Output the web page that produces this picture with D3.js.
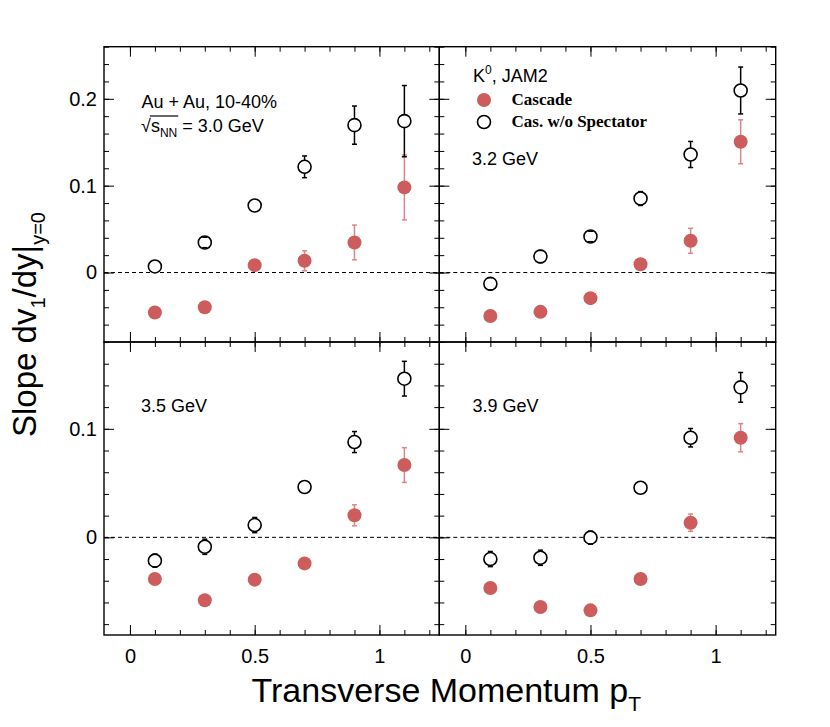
<!DOCTYPE html>
<html lang="en">
<head>
<meta charset="utf-8">
<script src="https://cdn.jsdelivr.net/npm/d3@7"></script>
<style>
    body { margin: 0; background: #fff; }
    text { font-family: "Liberation Sans", Arial, sans-serif; fill: #000; }
    .legend-text { font-family: "Liberation Serif", "Times New Roman", serif; font-weight: bold; font-size: 17px; }
    .tick line { stroke: #000; stroke-width: 1; }
    .frame { fill: none; stroke: #000; stroke-width: 1.4; }
    .zero { stroke: #000; stroke-width: 1; stroke-dasharray: 4,3; }
</style>
</head>
<body>
<svg id="chart" width="830" height="727"></svg>
<script>
// pT bin centres (GeV/c)
var pT = [0.1, 0.3, 0.5, 0.7, 0.9, 1.1];

// panel order: 3.0, 3.2, 3.5, 3.9 GeV
var energies = ["3.0 GeV", "3.2 GeV", "3.5 GeV", "3.9 GeV"];

// "Cascade" (filled red)
var cascade30 = [-0.046, -0.040, 0.0085, 0.0135, 0.0346, 0.098];
var cascade32 = [-0.050, -0.0453, -0.0295, 0.0096, 0.0365, 0.1505];
var cascade35 = [-0.0384, -0.058, -0.039, -0.024, 0.0203, 0.0666];
var cascade39 = [-0.0467, -0.0642, -0.0673, -0.0384, 0.0135, 0.0918];
var cascadeErr30 = [0.003, 0.003, 0.004, 0.0115, 0.020, 0.0374];
var cascadeErr32 = [0.003, 0.003, 0.003, 0.006, 0.0144, 0.0253];
var cascadeErr35 = [0.003, 0.003, 0.003, 0.004, 0.0097, 0.016];
var cascadeErr39 = [0.003, 0.003, 0.003, 0.004, 0.008, 0.013];

// "Cas. w/o Spectator" (open black); 0 = error hidden by the marker
var noSpec30 = [0.007, 0.0346, 0.0772, 0.1217, 0.1697, 0.1743];
var noSpec32 = [-0.013, 0.0184, 0.0415, 0.0852, 0.1359, 0.2096];
var noSpec35 = [-0.0215, -0.0087, 0.0113, 0.0464, 0.0878, 0.1462];
var noSpec39 = [-0.020, -0.0188, -0.0003, 0.0457, 0.0918, 0.1382];
var noSpecErr30 = [0, 0.006, 0, 0.0125, 0.022, 0.041];
var noSpecErr32 = [0.007, 0.007, 0.006, 0.008, 0.015, 0.027];
var noSpecErr35 = [0.006, 0.007, 0.007, 0, 0.0097, 0.016];
var noSpecErr39 = [0.007, 0.007, 0.006, 0, 0.0085, 0.0137];

// tick labels
var xTicks = [0, 0.5, 1];
var yTicksTop = [0, 0.1, 0.2];
var yTicksBottom = [0, 0.1];

var cascade = [cascade30, cascade32, cascade35, cascade39];
var cascadeErr = [cascadeErr30, cascadeErr32, cascadeErr35, cascadeErr39];
var noSpec = [noSpec30, noSpec32, noSpec35, noSpec39];
var noSpecErr = [noSpecErr30, noSpecErr32, noSpecErr35, noSpecErr39];

var red = "#cd5c5c";
var svg = d3.select("#chart");

var colX = [[104, 439.3], [439.3, 775.7]];
var rowY = [[46.7, 342], [342, 635]];
var yDomains = [[-0.08, 0.26], [-0.09, 0.18]];
var xDomain = [-0.104, 1.24];

var xMinor = d3.range(0, 13).map(function (v) { return v / 10; });
var yMinor = [
    d3.range(-8, 27, 2).map(function (v) { return v / 100; }),
    d3.range(-8, 19, 2).map(function (v) { return v / 100; })
];

function fmt(d) { return String(+d.toFixed(2)); }

function styleAxis(g) {
    g.select(".domain").remove();
    g.attr("font-family", null).attr("font-size", null);
    g.selectAll("text").style("font-size", "20px");
}

energies.forEach(function (en, i) {
    var col = i % 2, row = Math.floor(i / 2);
    var x = d3.scaleLinear().domain(xDomain).range(colX[col]);
    var y = d3.scaleLinear().domain(yDomains[row]).range([rowY[row][1], rowY[row][0]]);
    var yMajor = row === 0 ? yTicksTop : yTicksBottom;
    var g = svg.append("g");

    // y=0 dashed line
    g.append("line").attr("class", "zero")
        .attr("x1", colX[col][0]).attr("x2", colX[col][1])
        .attr("y1", y(0)).attr("y2", y(0));

    // ticks on all four sides, pointing inward
    g.append("g").attr("transform", "translate(" + colX[col][0] + ",0)")
        .call(d3.axisLeft(y).tickValues(yMajor).tickSize(-10).tickPadding(7)
            .tickFormat(col === 0 ? fmt : function () { return ""; }))
        .call(styleAxis);
    g.append("g").attr("transform", "translate(" + colX[col][0] + ",0)")
        .call(d3.axisLeft(y).tickValues(yMinor[row]).tickSize(-5).tickFormat(""))
        .call(styleAxis);
    g.append("g").attr("transform", "translate(" + colX[col][1] + ",0)")
        .call(d3.axisRight(y).tickValues(yMajor).tickSize(-10).tickFormat(""))
        .call(styleAxis);
    g.append("g").attr("transform", "translate(" + colX[col][1] + ",0)")
        .call(d3.axisRight(y).tickValues(yMinor[row]).tickSize(-5).tickFormat(""))
        .call(styleAxis);

    g.append("g").attr("transform", "translate(0," + rowY[row][1] + ")")
        .call(d3.axisBottom(x).tickValues(xTicks).tickSize(-10).tickPadding(14)
            .tickFormat(row === 1 ? fmt : function () { return ""; }))
        .call(styleAxis);
    g.append("g").attr("transform", "translate(0," + rowY[row][1] + ")")
        .call(d3.axisBottom(x).tickValues(xMinor).tickSize(-5).tickFormat(""))
        .call(styleAxis);
    g.append("g").attr("transform", "translate(0," + rowY[row][0] + ")")
        .call(d3.axisTop(x).tickValues(xTicks).tickSize(-10).tickFormat(""))
        .call(styleAxis);
    g.append("g").attr("transform", "translate(0," + rowY[row][0] + ")")
        .call(d3.axisTop(x).tickValues(xMinor).tickSize(-5).tickFormat(""))
        .call(styleAxis);

    g.append("rect").attr("class", "frame")
        .attr("x", colX[col][0]).attr("y", rowY[row][0])
        .attr("width", colX[col][1] - colX[col][0])
        .attr("height", rowY[row][1] - rowY[row][0]);

    // series: bar under the marker, end caps under or over it
    function drawSeries(vals, errs, stroke, fill, r, sw, capsOnTop) {
        var pts = pT.map(function (p, k) { return {x: p, v: vals[k], e: errs[k]}; })
        var withErr = pts.filter(function (d) { return d.e > 0; });
        g.append("g").attr("stroke", stroke).attr("stroke-width", 1.5)
            .selectAll("line").data(withErr).enter().append("line")
            .attr("x1", function (d) { return x(d.x); })
            .attr("x2", function (d) { return x(d.x); })
            .attr("y1", function (d) { return y(d.v - d.e); })
            .attr("y2", function (d) { return y(d.v + d.e); });
        function caps() {
            var c = g.append("g").attr("stroke", stroke).attr("stroke-width", 1.5);
            [-1, 1].forEach(function (s) {
                c.selectAll("line.cap" + (s + 1)).data(withErr).enter().append("line")
                    .attr("class", "cap" + (s + 1))
                    .attr("x1", function (d) { return x(d.x) - 2.5; })
                    .attr("x2", function (d) { return x(d.x) + 2.5; })
                    .attr("y1", function (d) { return y(d.v + s * d.e); })
                    .attr("y2", function (d) { return y(d.v + s * d.e); });
            });
        }
        if (!capsOnTop) caps();
        g.append("g").selectAll("circle").data(pts).enter().append("circle")
            .attr("cx", function (d) { return x(d.x); })
            .attr("cy", function (d) { return y(d.v); })
            .attr("r", r)
            .attr("fill", fill)
            .attr("stroke", sw > 0 ? "#000" : "none")
            .attr("stroke-width", sw);
        if (capsOnTop) caps();
    }
    drawSeries(cascade[i], cascadeErr[i], "#e08386", red, 7, 0, false);
    drawSeries(noSpec[i], noSpecErr[i], "#000", "#fff", 6.5, 1.6, true);
});

// panel annotations
svg.append("text").attr("x", 141.5).attr("y", 108).style("font-size", "18px")
    .text("Au + Au, 10-40%");
var t2 = svg.append("text").attr("x", 141).attr("y", 132).style("font-size", "18px");
t2.append("tspan").text("\u221A");
t2.append("tspan").text("s");
t2.append("tspan").attr("dy", 5).style("font-size", "12px").text("NN");
t2.append("tspan").attr("dy", -5).text(" = 3.0 GeV");
var node = t2.node();
svg.append("line")
    .attr("x1", node.getEndPositionOfChar(0).x - 1)
    .attr("x2", node.getEndPositionOfChar(3).x + 1)
    .attr("y1", 116).attr("y2", 116)
    .attr("stroke", "#000").attr("stroke-width", 1.2);

var k = svg.append("text").attr("x", 473).attr("y", 82).style("font-size", "18px");
k.append("tspan").text("K");
k.append("tspan").attr("dy", -8).style("font-size", "12px").text("0");
k.append("tspan").attr("dy", 8).text(", JAM2");

svg.append("circle").attr("cx", 484).attr("cy", 100).attr("r", 7).attr("fill", red);
svg.append("text").attr("class", "legend-text").attr("x", 511.5).attr("y", 104.5).text("Cascade");
svg.append("circle").attr("cx", 484).attr("cy", 122).attr("r", 6.5)
    .attr("fill", "#fff").attr("stroke", "#000").attr("stroke-width", 1.6);
svg.append("text").attr("class", "legend-text").attr("x", 511.5).attr("y", 126.5).text("Cas. w/o Spectator");

var labelPos = [null, [472, 165], [141, 412], [472.5, 412]];
energies.forEach(function (en, i) {
    if (!labelPos[i]) return;
    svg.append("text").attr("x", labelPos[i][0]).attr("y", labelPos[i][1])
        .style("font-size", "18px").text(en);
});

// axis titles
var yt = svg.append("text").attr("transform", "translate(36,212) rotate(-90)")
    .attr("text-anchor", "end").style("font-size", "33px");
yt.append("tspan").text("Slope dv");
yt.append("tspan").attr("dy", 9).style("font-size", "20px").text("1");
yt.append("tspan").attr("dy", -9).text("/dy|");
yt.append("tspan").attr("dy", 9).style("font-size", "20px").text("y=0");

var xt = svg.append("text").attr("x", 251.5).attr("y", 701.5).style("font-size", "34px");
xt.append("tspan").text("Transverse Momentum p");
xt.append("tspan").attr("dy", 9).style("font-size", "21px").text("T");
</script>
</body>
</html>
